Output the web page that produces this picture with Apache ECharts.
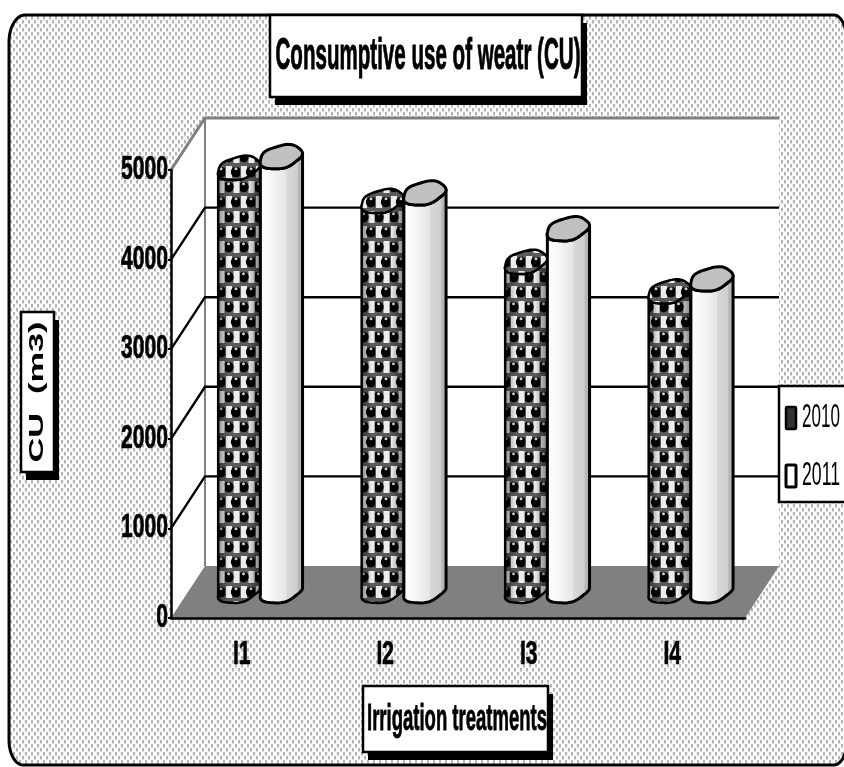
<!DOCTYPE html>
<html>
<head>
<meta charset="utf-8">
<style>
  html, body { margin: 0; padding: 0; background: #fff; }
  #main { width: 844px; height: 767px; }
</style>
<script src="https://cdn.jsdelivr.net/npm/echarts@6/dist/echarts.min.js"></script>
</head>
<body>
<div id="main"></div>
<script>
var categories = ['I1', 'I2', 'I3', 'I4'];
var yTicks = [0, 1000, 2000, 3000, 4000, 5000];
var values2010 = [4720, 4350, 3670, 3340];
var values2011 = [4845, 4440, 4040, 3480];
var yearNames = ['2010', '2011'];
var titleText = 'Consumptive use of weatr (CU)';
var xAxisName = 'Irrigation treatments';
var yAxisName = 'CU  (m3)';

var SANS = '"Liberation Sans"';
var DEPTH_X = 34, DEPTH_Y = -52;

var measureCtx = document.createElement('canvas').getContext('2d');

// the picture uses a squeezed font, none is installed so text gets fitted to a width
function fitScale(text, font, width) {
    measureCtx.font = font;
    return width / measureCtx.measureText(text).width;
}

function fittedText(text, x, y, font, width, z, rotation, weight) {
    return {
        type: 'text', x: x, y: y, z: z, silent: true,
        scaleX: fitScale(text, font, width),
        rotation: rotation || 0,
        style: { text: text, font: font, fill: '#000', stroke: weight ? '#000' : null, lineWidth: weight || 0, align: 'center', verticalAlign: 'middle' }
    };
}

function shadowBox(l, t, r, b, z) {
    return [
        { type: 'rect', z: z, silent: true, shape: { x: l + 5, y: t + 8, width: r - l, height: b - t }, style: { fill: '#000' } },
        { type: 'rect', z: z + 1, silent: true, shape: { x: l, y: t, width: r - l, height: b - t }, style: { fill: '#fff', stroke: '#000', lineWidth: 2.5 } }
    ];
}

// dotted background tile
function dotsTile() {
    var c = document.createElement('canvas');
    c.width = 6; c.height = 8;
    var g = c.getContext('2d');
    g.fillStyle = '#fafafa';
    g.fillRect(0, 0, 6, 8);
    g.fillStyle = '#b4b4b4';
    g.fillRect(1, 0, 2, 3);
    g.fillRect(4, 4, 2, 3);
    g.fillStyle = '#d8d8d8';
    g.fillRect(1, 3, 2, 1);
    g.fillRect(4, 7, 2, 1);
    return c;
}

// black balls in staggered rows with light blocks between, used for the 2010 columns
function ballsTile() {
    var c = document.createElement('canvas');
    c.width = 15; c.height = 30;
    var g = c.getContext('2d');
    g.fillStyle = '#5a5a5a';
    g.fillRect(0, 0, 15, 30);
    // light blocks
    g.fillStyle = '#ececec';
    g.fillRect(8.5, 1, 6, 12);
    g.fillRect(1, 16, 6, 12);
    function ball(x, y) {
        g.fillStyle = '#000';
        g.beginPath();
        g.arc(x, y, 5.2, 0, Math.PI * 2);
        g.fill();
        g.fillStyle = '#d0d0d0';
        g.beginPath();
        g.arc(x, y - 3.2, 1.5, 0, Math.PI * 2);
        g.fill();
    }
    ball(3.5, 7);
    ball(11, 22);
    return c;
}

var ballsPattern = { image: ballsTile(), repeat: 'repeat' };
var dotsPattern = { image: dotsTile(), repeat: 'repeat' };

// outer frame with oval corners
function framePoints() {
    var pts = [];
    var corners = [
        [25, 42, 16, 27, Math.PI, 1.5 * Math.PI],
        [834, 42, 13, 27, 1.5 * Math.PI, 2 * Math.PI],
        [834, 740, 13, 25, 0, 0.5 * Math.PI],
        [23, 740, 14, 25, 0.5 * Math.PI, Math.PI]
    ];
    corners.forEach(function (c) {
        for (var i = 0; i <= 12; i++) {
            var t = c[4] + (c[5] - c[4]) * i / 12;
            pts.push([c[0] + c[2] * Math.cos(t), c[1] + c[3] * Math.sin(t)]);
        }
    });
    return pts;
}

var chart = echarts.init(document.getElementById('main'));

function ringPoint(cx, cy, a, b, t) {
    var w = 1 + 0.035 * Math.sin(5 * t + 1);
    var px = a * Math.cos(t);
    return [cx + px * w, cy + b * Math.sin(t) * w - 0.19 * px];
}

function renderWalls(params, api) {
    var cs = params.coordSys;
    var l = cs.x, r = cs.x + cs.width;
    var zero = api.coord([0, 0])[1], top = api.coord([0, 5000])[1];
    return {
        type: 'group',
        children: [
            { type: 'polygon', shape: { points: [[l, top], [l + DEPTH_X, top + DEPTH_Y], [l + DEPTH_X, zero + DEPTH_Y], [l, zero]] },
              style: { fill: '#fff', stroke: null } },
            { type: 'rect', shape: { x: l + DEPTH_X, y: top + DEPTH_Y, width: cs.width, height: zero - top },
              style: { fill: '#fff', stroke: null } },
            { type: 'polygon', shape: { points: [[l, zero], [l + DEPTH_X, zero + DEPTH_Y], [r + DEPTH_X, zero + DEPTH_Y], [r, zero]] },
              style: { fill: '#808080', stroke: null } },
            { type: 'polyline', shape: { points: [[l, top], [l + DEPTH_X, top + DEPTH_Y], [r + DEPTH_X, top + DEPTH_Y]] },
              style: { fill: null, stroke: '#808080', lineWidth: 3 } },
            { type: 'line', shape: { x1: l + DEPTH_X, y1: top + DEPTH_Y, x2: l + DEPTH_X, y2: zero + DEPTH_Y },
              style: { stroke: '#808080', lineWidth: 2 } }
        ]
    };
}

function renderGridline(params, api) {
    var cs = params.coordSys;
    var v = api.value(0);
    if (v === 0 || v === 5000) return;
    var y = api.coord([0, v])[1];
    return {
        type: 'polyline',
        shape: { points: [[cs.x, y], [cs.x + DEPTH_X, y + DEPTH_Y], [cs.x + cs.width + DEPTH_X, y + DEPTH_Y]] },
        style: { fill: null, stroke: '#000', lineWidth: 2.4 }
    };
}

var TICK_FONT = 'bold 33px ' + SANS;

function renderYLabel(params, api) {
    var v = api.value(0);
    var y = api.coord([0, v])[1];
    return {
        type: 'text', x: params.coordSys.x - 3, y: y, silent: true,
        scaleX: 0.64,
        style: { text: String(v), font: TICK_FONT, fill: '#000', stroke: '#000', lineWidth: 0.7, align: 'right', verticalAlign: 'middle' }
    };
}

function renderXLabel(params, api) {
    var i = api.value(0);
    var p = api.coord([i, 0]);
    return {
        type: 'text', x: p[0] - 1, y: p[1] + 37, silent: true,
        scaleX: 0.64,
        style: { text: categories[i], font: TICK_FONT, fill: '#000', stroke: '#000', lineWidth: 0.7, align: 'center', verticalAlign: 'middle' }
    };
}

function makeColumn(side) {
    return function (params, api) {
        var base = api.coord([api.value(0), 0]);
        var head = api.coord([api.value(0), api.value(1)]);
        var band = api.size([1, 0])[0];
        var a = band * 0.147;
        var b = 11.5;
        var cx = base[0] + DEPTH_X / 2 + side * a;
        var baseY = base[1] + DEPTH_Y / 2 - 1;
        var topY = head[1] + DEPTH_Y / 2 - 1;
        var steps = 28, i, t;
        var body = [], ring = [];
        for (i = 0; i <= steps; i++) {
            t = Math.PI - Math.PI * i / steps;
            body.push(ringPoint(cx, baseY, a, b, t));
        }
        for (i = 0; i <= steps; i++) {
            t = Math.PI * i / steps;
            body.push(ringPoint(cx, topY, a, b, t));
        }
        for (i = 0; i < steps * 2; i++) {
            ring.push(ringPoint(cx, topY, a, b, Math.PI * i / steps));
        }
        var children = [];
        if (side < 0) {
            children.push({ type: 'polygon', shape: { points: body },
                style: { fill: ballsPattern, stroke: '#000', lineWidth: 2.5 } });
            children.push({ type: 'polygon', shape: { points: body },
                style: { fill: new echarts.graphic.LinearGradient(0, 0, 1, 0, [
                    { offset: 0, color: 'rgba(0,0,0,0.4)' },
                    { offset: 0.25, color: 'rgba(0,0,0,0)' },
                    { offset: 0.7, color: 'rgba(0,0,0,0)' },
                    { offset: 1, color: 'rgba(0,0,0,0.45)' }
                ]), stroke: null } });
            children.push({ type: 'polygon', shape: { points: ring },
                style: { fill: ballsPattern, stroke: '#000', lineWidth: 2.5 } });
        } else {
            children.push({ type: 'polygon', shape: { points: body },
                style: { fill: new echarts.graphic.LinearGradient(0, 0, 1, 0, [
                    { offset: 0, color: '#ffffff' },
                    { offset: 0.25, color: '#f8f8f8' },
                    { offset: 0.45, color: '#eeeeee' },
                    { offset: 0.6, color: '#e6e6e6' },
                    { offset: 0.62, color: '#d8d8d8' },
                    { offset: 0.85, color: '#cfcfcf' },
                    { offset: 0.87, color: '#b8b8b8' },
                    { offset: 1, color: '#b0b0b0' }
                ]), stroke: '#000', lineWidth: 3 } });
            children.push({ type: 'polygon', shape: { points: ring },
                style: { fill: '#c0c0c0', stroke: '#000', lineWidth: 3 } });
        }
        return { type: 'group', children: children };
    };
}

function rowsOf(values) {
    return values.map(function (v, i) { return [i, v]; });
}

var overlays = [];
overlays.push({
    type: 'polygon', z: -10, silent: true,
    shape: { points: framePoints() },
    style: { fill: dotsPattern, stroke: '#000', lineWidth: 3 }
});
overlays = overlays.concat(shadowBox(270, 15, 582, 97, 10));
overlays.push(fittedText(titleText, 428, 57, 'bold 44px ' + SANS, 305, 12, 0, 1));
overlays = overlays.concat(shadowBox(363, 686, 548, 752, 10));
overlays.push(fittedText(xAxisName, 457, 720, 'bold 37px ' + SANS, 180, 12, 0, 0.8));
overlays = overlays.concat(shadowBox(21, 312, 54, 472, 10));
overlays.push(fittedText(yAxisName, 37, 392, 'bold 20px ' + SANS, 141, 12, Math.PI / 2));

// legend box, cut by the picture edge as in the original
overlays.push({ type: 'rect', z: 10, silent: true, shape: { x: 779, y: 386, width: 80, height: 116 }, style: { fill: '#fff', stroke: '#000', lineWidth: 2.5 } });
overlays.push({ type: 'rect', z: 11, silent: true, shape: { x: 786, y: 407, width: 10, height: 22, r: 1 }, style: { fill: '#333', stroke: '#000', lineWidth: 2.5 } });
overlays.push({ type: 'rect', z: 11, silent: true, shape: { x: 786, y: 465, width: 10, height: 22, r: 1 }, style: { fill: '#fff', stroke: '#000', lineWidth: 3 } });
overlays.push(fittedText(yearNames[0], 821, 418, '34px ' + SANS, 38, 11));
overlays.push(fittedText(yearNames[1], 821, 476, '34px ' + SANS, 38, 11));

var option = {
    animation: false,
    backgroundColor: '#fff',
    graphic: overlays,
    grid: { left: 171, top: 170, width: 574, height: 448 },
    xAxis: {
        type: 'category',
        data: categories,
        z: 5,
        axisLine: { lineStyle: { color: '#000', width: 2.5 } },
        axisTick: { length: 5, lineStyle: { color: '#000', width: 1.5 } },
        axisLabel: { show: false }
    },
    yAxis: {
        type: 'value',
        min: 0,
        max: 5000,
        interval: 1000,
        z: 5,
        axisLine: { show: true, lineStyle: { color: '#000', width: 2.5 } },
        axisTick: { show: true, length: 3, lineStyle: { color: '#000', width: 2 } },
        splitLine: { show: false },
        axisLabel: { show: false }
    },
    series: [
        { type: 'custom', silent: true, z: 1, data: [[0]], renderItem: renderWalls, clip: false },
        { type: 'custom', silent: true, z: 1, data: yTicks.map(function (v) { return [v]; }), renderItem: renderGridline, clip: false, encode: { y: 0 } },
        { type: 'custom', silent: true, z: 6, data: yTicks.map(function (v) { return [v]; }), renderItem: renderYLabel, clip: false, encode: { y: 0 } },
        { type: 'custom', silent: true, z: 6, data: categories.map(function (c, i) { return [i]; }), renderItem: renderXLabel, clip: false, encode: { x: 0 } },
        { type: 'custom', name: yearNames[0], z: 3, data: rowsOf(values2010), renderItem: makeColumn(-1), encode: { x: 0, y: 1 }, clip: false },
        { type: 'custom', name: yearNames[1], z: 4, data: rowsOf(values2011), renderItem: makeColumn(1), encode: { x: 0, y: 1 }, clip: false }
    ]
};

chart.setOption(option);
</script>
</body>
</html>
